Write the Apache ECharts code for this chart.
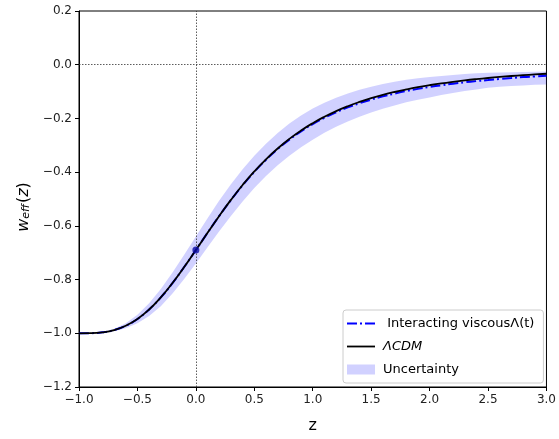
<!DOCTYPE html>
<html>
<head>
<meta charset="utf-8">
<script src="https://cdn.jsdelivr.net/npm/echarts@6/dist/echarts.min.js"></script>
<style>html,body{margin:0;padding:0;background:#fff;}#c{width:559px;height:439px;}</style>
</head>
<body>
<div id="c"></div>
<script>
// redshift samples
var zValues = [-1.0,-0.9,-0.8,-0.7,-0.6,-0.5,-0.4,-0.3,-0.2,-0.1,0.0,0.1,0.2,0.3,0.4,0.5,0.6,0.7,0.8,0.9,1.0,
  1.1,1.2,1.3,1.4,1.5,1.6,1.7,1.8,1.9,2.0,2.1,2.2,2.3,2.4,2.5,2.6,2.7,2.8,2.9,3.0];
// LambdaCDM curve (black)
var lcdm = [-1.0000,-0.9996,-0.9964,-0.9880,-0.9720,-0.9468,-0.9115,-0.8665,-0.8130,-0.7533,-0.6900,
  -0.6258,-0.5630,-0.5033,-0.4479,-0.3974,-0.3521,-0.3118,-0.2762,-0.2450,-0.2177,
  -0.1938,-0.1729,-0.1546,-0.1387,-0.1247,-0.1124,-0.1016,-0.0921,-0.0836,-0.0762,
  -0.0695,-0.0636,-0.0583,-0.0536,-0.0494,-0.0455,-0.0421,-0.0390,-0.0362,-0.0336];
// Interacting viscous Lambda(t) curve (blue dash-dot)
var viscous = [-1.0000,-0.9996,-0.9964,-0.9880,-0.9720,-0.9468,-0.9115,-0.8665,-0.8130,-0.7533,-0.6900,
  -0.6258,-0.5630,-0.5040,-0.4490,-0.3990,-0.3540,-0.3140,-0.2790,-0.2480,-0.2210,
  -0.1975,-0.1770,-0.1590,-0.1435,-0.1300,-0.1180,-0.1075,-0.0980,-0.0900,-0.0830,
  -0.0765,-0.0705,-0.0655,-0.0610,-0.0570,-0.0530,-0.0495,-0.0460,-0.0435,-0.0410];
// uncertainty band edges
var bandUpper = [-1.000,-0.9993,-0.9954,-0.984,-0.963,-0.931,-0.888,-0.835,-0.774,-0.708,-0.640,
  -0.572,-0.506,-0.445,-0.389,-0.339,-0.294,-0.254,-0.219,-0.189,-0.163,
  -0.1415,-0.123,-0.107,-0.0935,-0.082,-0.072,-0.0635,-0.056,-0.050,-0.046,
  -0.042,-0.038,-0.035,-0.032,-0.030,-0.029,-0.028,-0.027,-0.026,-0.025];
var bandLower = [-1.000,-0.9999,-0.9974,-0.992,-0.981,-0.963,-0.936,-0.899,-0.852,-0.798,-0.740,
  -0.680,-0.620,-0.563,-0.509,-0.459,-0.414,-0.374,-0.339,-0.307,-0.279,
  -0.2535,-0.231,-0.211,-0.1935,-0.178,-0.164,-0.1515,-0.140,-0.130,-0.122,
  -0.113,-0.105,-0.098,-0.092,-0.086,-0.082,-0.079,-0.077,-0.075,-0.074];
// present-day point
var pointZ = [0.0];
var pointW = [-0.69];
// axis ticks
var xTicks = {min: -1.0, max: 3.0, interval: 0.5};
var yTicks = {min: -1.2, max: 0.2, interval: 0.2};

function pairs(xs, ys) { return xs.map(function (x, i) { return [x, ys[i]]; }); }
var bandData = zValues.map(function (z, i) { return [z, bandLower[i], bandUpper[i]]; });

var FONT = 'DejaVu Sans';
var BAND = 'rgba(0,0,255,0.18)';
var DASHDOT = [10, 3, 2, 3];
function fmt(v) {
  var s = Number(v).toFixed(1);
  return s.replace('-', '\u2212');
}

function renderBand(params, api) {
  if (params.dataIndex !== 0) return null;
  var top = [], bottom = [];
  for (var i = 0; i < bandData.length; i++) {
    top.push(api.coord([bandData[i][0], bandData[i][2]]));
    bottom.push(api.coord([bandData[i][0], bandData[i][1]]));
  }
  var pts = top.concat(bottom.reverse());
  return {
    type: 'polygon',
    shape: {points: pts, smooth: 0},
    style: {fill: BAND, stroke: 'none'},
    silent: true
  };
}

var chart = echarts.init(document.getElementById('c'), null, {renderer: 'canvas'});
var option = {
  animation: false,
  backgroundColor: '#ffffff',
  grid: {left: 79, right: 10, top: 11, bottom: 50, show: true, borderColor: '#000', borderWidth: 1, backgroundColor: 'transparent'},
  xAxis: {
    type: 'value', min: xTicks.min, max: xTicks.max, interval: xTicks.interval,
    name: 'z', nameLocation: 'middle', nameGap: 31,
    nameTextStyle: {fontFamily: FONT, fontSize: 16, color: '#000'},
    axisLine: {show: true, onZero: false, lineStyle: {color: '#000', width: 1}},
    axisTick: {show: true, inside: false, length: 4, lineStyle: {color: '#000'}},
    axisLabel: {fontFamily: FONT, fontSize: 12, color: '#222', margin: 7, formatter: fmt},
    splitLine: {show: false}
  },
  yAxis: {
    type: 'value', min: yTicks.min, max: yTicks.max, interval: yTicks.interval,
    name: '{i|w}{sub|eff}{n|(}{i|z}{n|)}', nameLocation: 'middle', nameGap: 47, nameRotate: 90,
    nameTextStyle: {
      fontFamily: FONT, fontSize: 15, color: '#000', padding: [0, 16, 0, 0],
      rich: {
        i: {fontFamily: FONT, fontSize: 16, fontStyle: 'italic', color: '#000'},
        n: {fontFamily: FONT, fontSize: 16, color: '#000'},
        sub: {fontFamily: FONT, fontSize: 11, fontStyle: 'italic', color: '#000', verticalAlign: 'bottom', padding: [6, 1, 0, 0]}
      }
    },
    axisLine: {show: true, onZero: false, lineStyle: {color: '#000', width: 1}},
    axisTick: {show: true, inside: false, length: 4, lineStyle: {color: '#000'}},
    axisLabel: {fontFamily: FONT, fontSize: 12, color: '#222', margin: 7, formatter: fmt},
    splitLine: {show: false}
  },
  legend: {
    orient: 'vertical', left: 343, top: 310,
    backgroundColor: 'rgba(255,255,255,0.85)', borderColor: '#cccccc', borderWidth: 1, borderRadius: 3,
    padding: [7, 9, 7, 3], itemGap: 10, itemWidth: 28, itemHeight: 10,
    data: [
      {name: 'Interacting viscous\u039b(t)', itemStyle: {opacity: 0}, lineStyle: {color: '#0000ff', width: 2, type: DASHDOT}},
      {name: '\u039bCDM', itemStyle: {opacity: 0}, lineStyle: {color: '#000', width: 1.8}},
      {name: 'Uncertainty', icon: 'rect', itemStyle: {color: BAND}}
    ],
    formatter: function (name) {
      if (name === '\u039bCDM') return '{it|' + name + '}';
      if (name === 'Interacting viscous\u039b(t)') return ' ' + name;
      return name;
    },
    textStyle: {
      fontFamily: FONT, fontSize: 13, color: '#000', padding: [0, 0, 0, 3],
      rich: {it: {fontFamily: FONT, fontSize: 13, fontStyle: 'italic', color: '#000'}}
    }
  },
  series: [
    {
      name: 'Uncertainty', type: 'custom', data: bandData,
      encode: {x: 0, y: [1, 2]}, renderItem: renderBand,
      itemStyle: {color: BAND}, silent: true, z: 1, clip: true
    },
    {
      name: 'Interacting viscous\u039b(t)', type: 'line', data: pairs(zValues, viscous),
      symbol: 'none', smooth: true, itemStyle: {color: '#0000ff'},
      lineStyle: {color: '#0000ff', width: 2, type: DASHDOT}, z: 3
    },
    {
      name: '\u039bCDM', type: 'line', data: pairs(zValues, lcdm),
      symbol: 'none', smooth: true, itemStyle: {color: '#000'},
      lineStyle: {color: '#000', width: 1.8}, z: 4,
      markLine: {
        silent: true, symbol: ['none', 'none'], label: {show: false},
        lineStyle: {color: '#333', width: 0.8, type: [1.5, 1.5]},
        data: [{xAxis: 0}, {yAxis: 0}]
      }
    },
    {
      name: 'point', type: 'scatter', data: pairs(pointZ, pointW),
      symbolSize: 7, itemStyle: {color: '#0a0aa8'}, z: 5, silent: true
    }
  ]
};
chart.setOption(option);
</script>
</body>
</html>
